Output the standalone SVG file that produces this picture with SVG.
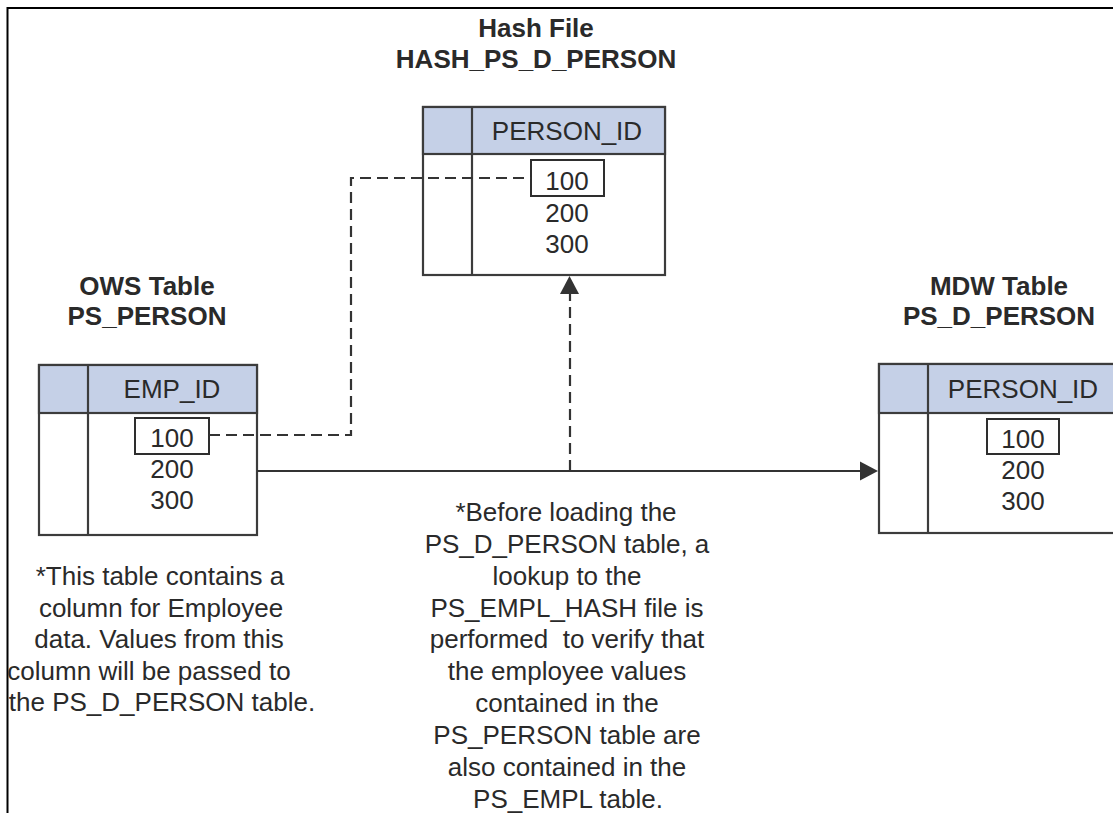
<svg xmlns="http://www.w3.org/2000/svg" width="1113" height="813" viewBox="0 0 1113 813">
  <defs>
    <style>
      .frame { fill: none; stroke: #000; stroke-width: 2; }
      .tbl { fill: #fff; stroke: #3c3c3c; stroke-width: 2.2; }
      .hdr { fill: #c5d0e7; stroke: #3c3c3c; stroke-width: 2.2; }
      .rule { stroke: #3c3c3c; stroke-width: 2.2; }
      .key { fill: #fff; stroke: #2e2e2e; stroke-width: 2; }
      .title { font-family: "Liberation Sans", Arial, sans-serif; font-size: 26px; font-weight: bold; fill: #2a2a2a; text-anchor: middle; }
      .cell { font-family: "Liberation Sans", Arial, sans-serif; font-size: 26px; fill: #2a2a2a; text-anchor: middle; }
      .note { font-family: "Liberation Sans", Arial, sans-serif; font-size: 26px; fill: #2a2a2a; text-anchor: middle; }
      .flow { fill: none; stroke: #333; stroke-width: 2.2; }
      .lookup { fill: none; stroke: #333; stroke-width: 2.2; stroke-dasharray: 11 6; }
      .head { fill: #333; }
    </style>
  </defs>

  <rect width="1113" height="813" fill="#fff"/>
  <!-- page frame (left and top edges) -->
  <path class="frame" d="M7.5,813 V8 H1113"/>

  <!-- hash file table -->
  <g id="hash-file">
    <text class="title" x="536" y="37">Hash File</text>
    <text class="title" x="536" y="68">HASH_PS_D_PERSON</text>
    <rect class="tbl" x="423" y="107" width="242" height="168"/>
    <rect class="hdr" x="423" y="107" width="242" height="47"/>
    <line class="rule" x1="472" y1="107" x2="472" y2="275"/>
    <text class="cell" x="567" y="140">PERSON_ID</text>
    <rect class="key" x="531" y="160" width="73" height="36"/>
    <text class="cell" x="567" y="190">100</text>
    <text class="cell" x="567" y="222">200</text>
    <text class="cell" x="567" y="253">300</text>
  </g>

  <!-- source OWS table -->
  <g id="ows-table">
    <text class="title" x="147" y="295">OWS Table</text>
    <text class="title" x="147" y="325">PS_PERSON</text>
    <rect class="tbl" x="39" y="365" width="218" height="170"/>
    <rect class="hdr" x="39" y="365" width="218" height="48"/>
    <line class="rule" x1="88" y1="365" x2="88" y2="535"/>
    <text class="cell" x="172" y="398">EMP_ID</text>
    <rect class="key" x="135" y="418" width="74" height="36"/>
    <text class="cell" x="172" y="447">100</text>
    <text class="cell" x="172" y="478">200</text>
    <text class="cell" x="172" y="509">300</text>
  </g>

  <!-- target MDW table (runs past the right edge) -->
  <g id="mdw-table">
    <text class="title" x="999" y="295">MDW Table</text>
    <text class="title" x="999" y="325">PS_D_PERSON</text>
    <rect class="tbl" x="879" y="364" width="260" height="169"/>
    <rect class="hdr" x="879" y="364" width="260" height="49"/>
    <line class="rule" x1="928" y1="364" x2="928" y2="533"/>
    <text class="cell" x="1023" y="398">PERSON_ID</text>
    <rect class="key" x="987" y="419" width="72" height="35"/>
    <text class="cell" x="1023" y="448">100</text>
    <text class="cell" x="1023" y="479">200</text>
    <text class="cell" x="1023" y="510">300</text>
  </g>

  <!-- connectors -->
  <g id="connectors">
    <path class="flow" d="M257,471 H862"/>
    <polygon class="head" points="878,471 860,461.5 860,480.5"/>
    <path class="lookup" d="M570,471 V292"/>
    <polygon class="head" points="569.5,276 560,294 579,294"/>
    <path class="lookup" d="M209,435 H351 V178 H531"/>
  </g>

  <!-- notes -->
  <g id="note-ows">
    <text class="note" x="160" y="585">*This table contains a</text>
    <text class="note" x="161" y="617">column for Employee</text>
    <text class="note" x="159" y="648">data. Values from this</text>
    <text class="note" x="149" y="680">column will be passed to</text>
    <text class="note" x="162" y="711">the PS_D_PERSON table.</text>
  </g>
  <g id="note-lookup">
    <text class="note" x="566" y="521">*Before loading the</text>
    <text class="note" x="567" y="553">PS_D_PERSON table, a</text>
    <text class="note" x="567" y="585">lookup to the</text>
    <text class="note" x="567" y="617">PS_EMPL_HASH file is</text>
    <text class="note" x="567" y="648" xml:space="preserve">performed  to verify that</text>
    <text class="note" x="567" y="680">the employee values</text>
    <text class="note" x="567" y="712">contained in the</text>
    <text class="note" x="567" y="744">PS_PERSON table are</text>
    <text class="note" x="567" y="776">also contained in the</text>
    <text class="note" x="568" y="808">PS_EMPL table.</text>
  </g>
</svg>
